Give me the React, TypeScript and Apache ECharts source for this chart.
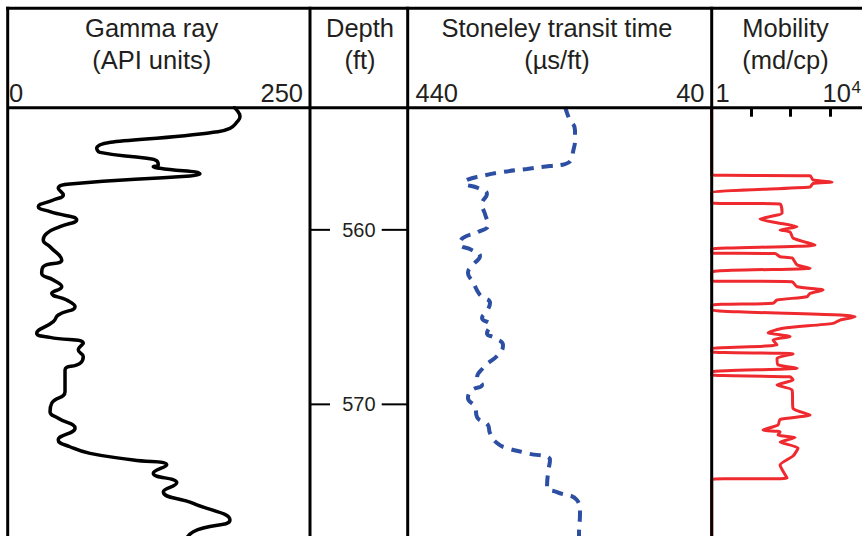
import React, { useEffect, useRef } from "react";
import * as echarts from "echarts";

// ---- depth axis ----
const depthMin = 553;
const depthMax = 578;
const depthTicks = [560, 570];

// ---- Gamma ray (API units) ----
const grDepth = [552.96, 553.13, 553.52, 553.8, 554.18, 554.41, 555.33, 555.56, 555.9, 556.04, 556.28, 556.38, 556.47, 556.8, 556.91, 557.37, 557.62, 558.0, 558.29, 558.67, 558.96, 559.44, 559.82, 560.2, 560.58, 560.97, 561.73, 562.11, 562.49, 562.87, 563.26, 563.64, 564.02, 564.4, 564.88, 565.26, 565.93, 566.16, 566.5, 566.89, 567.27, 567.65, 568.03, 568.6, 569.28, 569.94, 570.42, 570.8, 571.37, 572.04, 572.43, 572.81, 573.19, 573.48, 573.95, 574.49, 575.01, 575.67, 576.63, 577.3, 578.06];
const grValue = [186.3, 189.4, 192.1, 189.9, 183.8, 170.0, 73.6, 76.3, 115.0, 123.2, 124.5, 120.4, 126.0, 159.0, 150.8, 51.5, 41.8, 46.0, 37.7, 25.3, 35.0, 57.1, 43.3, 32.3, 29.4, 35.0, 44.7, 29.4, 28.1, 37.7, 44.7, 36.4, 48.8, 55.7, 41.8, 37.7, 24.0, 35.0, 62.5, 58.4, 62.5, 59.8, 47.4, 47.4, 47.4, 36.4, 35.0, 41.8, 55.7, 41.8, 51.5, 68.1, 103.9, 131.5, 120.4, 139.8, 128.7, 153.5, 183.8, 153.5, 145.0];

// ---- Stoneley transit time (us/ft) ----
const stDepth = [552.96, 553.13, 553.59, 554.28, 554.85, 555.54, 556.0, 556.23, 556.34, 556.51, 556.68, 556.91, 557.14, 557.32, 557.6, 557.95, 558.52, 559.09, 559.72, 560.12, 560.46, 560.81, 561.16, 561.5, 562.01, 562.47, 562.99, 563.73, 564.19, 564.65, 565.05, 565.46, 565.92, 566.2, 566.6, 567.06, 567.92, 568.49, 568.89, 569.18, 569.64, 570.15, 570.73, 571.19, 571.65, 572.22, 572.51, 572.8, 573.2, 573.94, 574.75, 575.03, 575.49, 576.24, 577.38, 578.06];
const stValue = [233.0, 231.7, 227.8, 219.9, 219.9, 222.5, 225.1, 233.0, 252.8, 283.0, 314.6, 342.2, 362.0, 364.6, 347.5, 335.7, 342.2, 338.3, 334.3, 347.5, 367.2, 371.2, 355.4, 344.9, 354.1, 360.7, 354.1, 344.9, 331.7, 335.7, 342.2, 331.7, 335.7, 325.1, 314.6, 318.6, 340.9, 348.8, 342.2, 355.4, 360.7, 351.4, 348.8, 334.3, 331.7, 322.5, 309.3, 283.0, 252.8, 255.4, 256.7, 243.6, 217.2, 213.3, 214.6, 214.6];

// ---- Mobility (md/cp) ----
const mobDepth = [553.0, 556.86, 556.9, 557.14, 557.26, 557.34, 557.54, 557.89, 558.46, 558.52, 559.04, 559.38, 559.59, 559.82, 560.01, 560.12, 560.47, 560.87, 561.1, 561.33, 561.36, 561.54, 561.61, 562.01, 562.2, 562.41, 562.93, 562.97, 563.26, 563.45, 563.64, 563.83, 564.02, 564.21, 564.31, 564.59, 564.88, 564.98, 565.17, 565.36, 565.64, 565.89, 566.12, 566.31, 566.6, 566.8, 567.0, 567.11, 567.36, 567.74, 567.93, 568.13, 568.32, 568.42, 568.6, 568.89, 569.18, 570.23, 570.61, 570.86, 571.18, 571.47, 571.58, 571.76, 571.9, 572.16, 572.5, 572.96, 573.48, 574.22, 574.31, 578.06];
const mobValue = [1, 1, 312.6, 372.5, 1130, 372.5, 312.6, 1, 1, 54.2, 60.9, 16.8, 45.4, 146.2, 54.2, 97.1, 115.7, 418.8, 1, 1, 40.4, 54.2, 109.1, 146.2, 312.6, 1, 1, 109.1, 146.2, 668.3, 312.6, 262.3, 45.4, 35.9, 1, 1, 1804, 4335, 1804, 1199, 64.5, 26.9, 97.1, 35.9, 45.4, 1, 1, 115.7, 45.4, 48.2, 146.2, 1, 1, 97.1, 115.7, 45.4, 109.1, 115.7, 312.6, 54.2, 48.2, 20.0, 54.2, 48.2, 130.1, 54.2, 155.0, 115.7, 54.2, 81.5, 1, 1];

// ---- header texts ----
const trackTitles = ["Gamma ray", "Depth", "Stoneley transit time", "Mobility"];
const trackUnits = ["(API units)", "(ft)", "(µs/ft)", "(md/cp)"];
const grScale = ["0", "250"];
const stScale = ["440", "40"];
const mobScale = ["1", "10", "4"];

// ---- layout ----
const X0 = 7.7, X1 = 310, X2 = 407.7, X3 = 711.7, MOB_W = 157.7;
const TOP = 8.3, HEAD = 107.7, PLOT_H = 436.25;
const FONT = "'Liberation Sans', Arial, Helvetica, sans-serif";
const TXT = "#231f20";

function txt(x: number, y: number, text: string, align: string, size = 25.5) {
  return {
    type: "text",
    x,
    y,
    z: 20,
    style: {
      text,
      fill: TXT,
      fontSize: size,
      fontFamily: FONT,
      align,
      verticalAlign: "middle",
      textAlign: align,
      textVerticalAlign: "middle",
    },
  };
}

function ln(x1: number, y1: number, x2: number, y2: number) {
  return {
    type: "line",
    z: 30,
    shape: { x1, y1, x2, y2 },
    style: { stroke: "#000", lineWidth: 3 },
  };
}

export default function App() {
  const ref = useRef<HTMLDivElement>(null);
  useEffect(() => {
    if (!ref.current) return;
    const chart = echarts.init(ref.current, undefined, { renderer: "svg" });
    const grids = [
      [X0, X1 - X0],
      [X1, X2 - X1],
      [X2, X3 - X2],
      [X3, MOB_W],
    ].map(([l, w]) => ({
      left: l,
      top: HEAD,
      width: w,
      height: PLOT_H,
      containLabel: false,
      outerBoundsMode: "none",
      show: false,
    }));
    const yAxes = [0, 1, 2, 3].map((i) => ({
      type: "value",
      gridIndex: i,
      min: depthMin,
      max: depthMax,
      inverse: true,
      show: false,
    }));
    const titleX = [151.7, 360, 557, 785.5];
    const graphics: any[] = [];
    trackTitles.forEach((t, i) => {
      graphics.push(txt(titleX[i], 28.4, t, "center"));
      graphics.push(txt(titleX[i], 59.6, trackUnits[i], "center"));
    });
    const SY = 92.8;
    graphics.push(txt(9, SY, grScale[0], "left"));
    graphics.push(txt(303, SY, grScale[1], "right"));
    graphics.push(txt(415.5, SY, stScale[0], "left"));
    graphics.push(txt(704.5, SY, stScale[1], "right"));
    graphics.push(txt(715.5, SY, mobScale[0], "left"));
    graphics.push(txt(822.5, SY, mobScale[1], "left"));
    graphics.push(txt(851.5, 87, mobScale[2], "left", 17));
    graphics.push(ln(X0 - 1.5, TOP, 900, TOP));
    graphics.push(ln(X0, HEAD, 900, HEAD));
    [X0, X1, X2, X3].forEach((x) => graphics.push(ln(x, TOP - 1.5, x, 560)));

    const option: any = {
      animation: false,
      backgroundColor: "#fff",
      grid: grids,
      xAxis: [
        { type: "value", gridIndex: 0, min: 0, max: 250, show: false },
        { type: "value", gridIndex: 1, min: 0, max: 1, show: false },
        { type: "value", gridIndex: 2, min: 40, max: 440, inverse: true, show: false },
        {
          type: "log",
          gridIndex: 3,
          logBase: 10,
          min: 1,
          max: 10000,
          position: "top",
          axisLine: { show: false },
          axisTick: { show: true, inside: true, length: 9, lineStyle: { color: "#000", width: 3 } },
          axisLabel: { show: false },
          splitLine: { show: false },
        },
      ],
      yAxis: yAxes,
      series: [
        {
          type: "line",
          xAxisIndex: 0,
          yAxisIndex: 0,
          data: grDepth.map((d, i) => [grValue[i], d]),
          showSymbol: false,
          smooth: 0.5,
          lineStyle: { color: "#000", width: 3.5 },
        },
        {
          type: "line",
          xAxisIndex: 2,
          yAxisIndex: 2,
          data: stDepth.map((d, i) => [stValue[i], d]),
          showSymbol: false,
          smooth: 0.5,
          lineStyle: { color: "#2c4ea3", width: 4, type: [11, 8] },
        },
        {
          type: "line",
          xAxisIndex: 3,
          yAxisIndex: 3,
          data: mobDepth.map((d, i) => [mobValue[i], d]),
          showSymbol: false,
          smooth: 0.2,
          lineStyle: { color: "#ee2a2f", width: 3 },
        },
        {
          type: "custom",
          xAxisIndex: 1,
          yAxisIndex: 1,
          data: depthTicks.map((d) => [0, d]),
          renderItem: (_p: any, api: any) => {
            const d = api.value(1);
            const [xl, y] = api.coord([0, d]);
            const xr = api.coord([1, d])[0];
            return {
              type: "group",
              children: [
                { type: "line", shape: { x1: xl, y1: y, x2: xl + 20, y2: y }, style: { stroke: "#000", lineWidth: 2 } },
                { type: "line", shape: { x1: xr - 26, y1: y, x2: xr, y2: y }, style: { stroke: "#000", lineWidth: 2 } },
                {
                  type: "text",
                  style: {
                    text: String(d),
                    x: (xl + xr) / 2,
                    y,
                    align: "center",
                    verticalAlign: "middle",
                    fontSize: 20,
                    fontFamily: FONT,
                    fill: TXT,
                  },
                },
              ],
            };
          },
        },
      ],
      graphic: graphics,
    };
    chart.setOption(option);
    return () => chart.dispose();
  }, []);
  return <div ref={ref} style={{ position: "absolute", left: 0, top: 0, width: 862, height: 536 }} />;
}
